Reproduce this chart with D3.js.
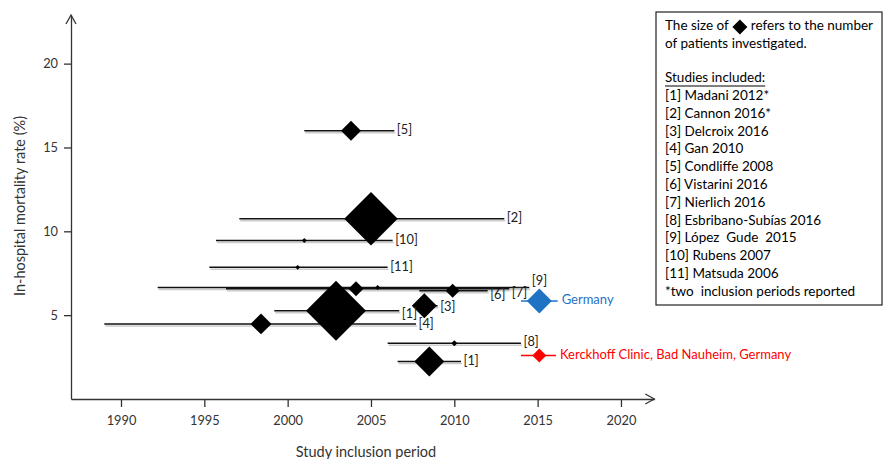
<!DOCTYPE html>
<html>
<head>
<meta charset="utf-8">
<script src="https://cdn.jsdelivr.net/npm/d3@7"></script>
<style>
  html, body { margin: 0; padding: 0; background: #fff; }
  svg { display: block; font-family: Lato, "Open Sans", sans-serif; }
</style>
</head>
<body>
<svg id="chart" width="885" height="459"></svg>
<script>
// ---------------- DATA ----------------
const studyLabels  = ["[5]", "[2]", "[10]", "[11]", "[9]", "[7]", "[6]", "[3]", "[1]", "[4]", "[8]", "[1]"];
const periodStart  = [2001.0, 1997.1, 1995.7, 1995.3, 1992.2, 1996.3, 2007.9, 2007.7, 1999.2, 1989.0, 2006.0, 2006.6];
const periodEnd    = [2006.4, 2013.0, 2006.3, 2006.0, 2014.5, 2013.3, 2012.0, 2009.0, 2006.7, 2007.7, 2014.0, 2010.4];
const pointYear    = [2003.8, 2005.0, 2001.0, 2000.6, 2005.4, 2004.1, 2009.9, 2008.2, 2002.9, 1998.4, 2010.0, 2008.5];
const mortality    = [16.0, 10.75, 9.45, 7.85, 6.65, 6.57, 6.45, 5.56, 5.26, 4.48, 3.33, 2.23];
const patients     = [100, 713, 6, 6, 6, 56, 49, 156, 900, 110, 9, 225];

const refNames     = ["Germany", "Kerckhoff Clinic, Bad Nauheim, Germany"];
const refStart     = [2014.0, 2014.0];
const refEnd       = [2016.2, 2016.1];
const refYear      = [2015.1, 2015.1];
const refMortality = [5.85, 2.59];
const refPatients  = [156, 49];

const xTicks = [1990, 1995, 2000, 2005, 2010, 2015, 2020];
const yTicks = [5, 10, 15, 20];

const legendIntro = ["The size of", "refers to the number", "of patients investigated."];
const legendHeading = "Studies included:";
const legendStudies = [
  "[1] Madani 2012*", "[2] Cannon 2016*", "[3] Delcroix 2016", "[4] Gan 2010",
  "[5] Condliffe 2008", "[6] Vistarini 2016", "[7] Nierlich 2016",
  "[8] Esbribano-Subías 2016", "[9] López  Gude  2015", "[10] Rubens 2007",
  "[11] Matsuda 2006", "*two  inclusion periods reported"
];

// ---------------- LAYOUT ----------------
const labelDy = [0, 0, 0, 0, -6, 4.5, 4.5, 1.5, 3.5, 0.5, 0, 0];
const refColors = ["#1f72c4", "#ff0000"];

const svg = d3.select("#chart");
const x = d3.scaleLinear().domain([1987, 2022]).range([71, 654.3]);
const y = d3.scaleLinear().domain([0, 22.9]).range([399, 15]);
const r = d3.scaleSqrt().domain([0, 900]).range([0, 30]);
const diamond = s => `M0,${-s}L${s},0L0,${s}L${-s},0Z`;

// axes
const axisCol = "#333";
const xAxis = d3.axisBottom(x).tickValues(xTicks).tickFormat(d3.format("d")).tickSize(8).tickSizeOuter(0);
const gx = svg.append("g").attr("transform", `translate(0,${y(0)})`).call(xAxis);
const yAxis = d3.axisLeft(y).tickValues(yTicks).tickSize(7).tickSizeOuter(0);
const gy = svg.append("g").attr("transform", `translate(${x(1987)},0)`).call(yAxis);
[gx, gy].forEach(g => {
  g.select(".domain").attr("stroke", axisCol).attr("stroke-width", 1.3);
  g.selectAll(".tick line").attr("stroke", axisCol).attr("stroke-width", 1.3);
  g.selectAll(".tick text").attr("fill", "#333").style("font-size", "12.8px").style("font-family", "Lato, 'Open Sans', sans-serif");
});
gx.selectAll(".tick text").attr("y", 17);
gy.selectAll(".tick text").attr("x", -13);

// arrow heads
const x0 = x(1987), y0 = y(0), yTop = y(22.9), xEnd = x(2022);
svg.append("path").attr("d", `M${x0-5},${yTop+9}L${x0},${yTop}L${x0+5},${yTop+9}`)
  .attr("fill", "none").attr("stroke", axisCol).attr("stroke-width", 1.3);
svg.append("path").attr("d", `M${xEnd-9},${y0-5}L${xEnd},${y0}L${xEnd-9},${y0+5}`)
  .attr("fill", "none").attr("stroke", axisCol).attr("stroke-width", 1.3);

// axis titles
svg.append("text").attr("transform", `translate(21,${206}) rotate(-90)`)
  .attr("text-anchor", "middle").attr("dominant-baseline", "middle")
  .attr("fill", "#333").style("font-size", "14.5px").text("In-hospital mortality rate (%)");
svg.append("text").attr("x", 366).attr("y", 457).attr("text-anchor", "middle")
  .attr("fill", "#333").style("font-size", "14.5px").text("Study inclusion period");

// studies
const studies = studyLabels.map((lab, i) => ({
  lab, s: periodStart[i], e: periodEnd[i], yr: pointYear[i], v: mortality[i], n: patients[i], dy: labelDy[i]
}));
const gS = svg.append("g");
// shadows
gS.selectAll("line.sh").data(studies).join("line").attr("class", "sh")
  .attr("x1", d => x(d.s) + 1).attr("x2", d => x(d.e) + 1)
  .attr("y1", d => y(d.v) + 2).attr("y2", d => y(d.v) + 2)
  .attr("stroke", "#ccc").attr("stroke-width", 1.5);
gS.selectAll("line.ci").data(studies).join("line").attr("class", "ci")
  .attr("x1", d => x(d.s)).attr("x2", d => x(d.e))
  .attr("y1", d => y(d.v)).attr("y2", d => y(d.v))
  .attr("stroke", "#111").attr("stroke-width", 1.5);
gS.selectAll("path.pt").data(studies).join("path").attr("class", "pt")
  .attr("transform", d => `translate(${x(d.yr)},${y(d.v)})`)
  .attr("d", d => diamond(r(d.n))).attr("fill", "#000");
gS.selectAll("text.lab").data(studies).join("text").attr("class", "lab")
  .attr("x", d => Math.max(x(d.e), x(d.yr) + r(d.n)) + 2.5)
  .attr("y", d => y(d.v) + d.dy)
  .attr("dominant-baseline", "middle")
  .attr("fill", "#222").style("font-size", "12.8px").text(d => d.lab);

// reference markers
const refs = refNames.map((nm, i) => ({
  nm, s: refStart[i], e: refEnd[i], yr: refYear[i], v: refMortality[i], n: refPatients[i], c: refColors[i]
}));
const gR = svg.append("g");
gR.selectAll("line").data(refs).join("line")
  .attr("x1", d => x(d.s)).attr("x2", d => x(d.e))
  .attr("y1", d => y(d.v)).attr("y2", d => y(d.v))
  .attr("stroke", d => d.c).attr("stroke-width", 1.5);
gR.selectAll("path").data(refs).join("path")
  .attr("transform", d => `translate(${x(d.yr)},${y(d.v)})`)
  .attr("d", d => diamond(r(d.n))).attr("fill", d => d.c);
gR.selectAll("text").data(refs).join("text")
  .attr("x", d => x(d.e) + 4).attr("y", d => y(d.v))
  .attr("dominant-baseline", "middle").attr("fill", d => d.c)
  .style("font-size", "13px").text(d => d.nm);

// legend box
const lg = svg.append("g");
lg.append("rect").attr("x", 656).attr("y", 12).attr("width", 226).attr("height", 293)
  .attr("fill", "#fff").attr("stroke", "#222").attr("stroke-width", 1.2);
const lx = 665, fs = "13.5px";
const t1 = lg.append("text").attr("x", lx).attr("y", 27).attr("dominant-baseline", "middle")
  .style("font-size", fs).attr("fill", "#000").text(legendIntro[0]);
const w1 = t1.node().getComputedTextLength();
lg.append("path").attr("transform", `translate(${lx + w1 + 11},27)`).attr("d", diamond(7.5)).attr("fill", "#000");
lg.append("text").attr("x", lx + w1 + 22).attr("y", 27).attr("dominant-baseline", "middle")
  .style("font-size", fs).attr("fill", "#000").text(legendIntro[1]);
lg.append("text").attr("x", lx).attr("y", 45).attr("dominant-baseline", "middle")
  .style("font-size", fs).attr("fill", "#000").text(legendIntro[2]);
const th = lg.append("text").attr("x", lx).attr("y", 79).attr("dominant-baseline", "middle")
  .style("font-size", fs).attr("fill", "#000").text(legendHeading);
const wh = th.node().getComputedTextLength();
lg.append("line").attr("x1", lx).attr("x2", lx + wh).attr("y1", 86).attr("y2", 86)
  .attr("stroke", "#000").attr("stroke-width", 1);
lg.selectAll("text.st").data(legendStudies).join("text").attr("class", "st")
  .attr("x", lx).attr("y", (d, i) => 96.5 + i * 17.8).attr("dominant-baseline", "middle")
  .style("font-size", fs).attr("fill", "#000").style("white-space", "pre").attr("xml:space", "preserve").text(d => d);
</script>
</body>
</html>
